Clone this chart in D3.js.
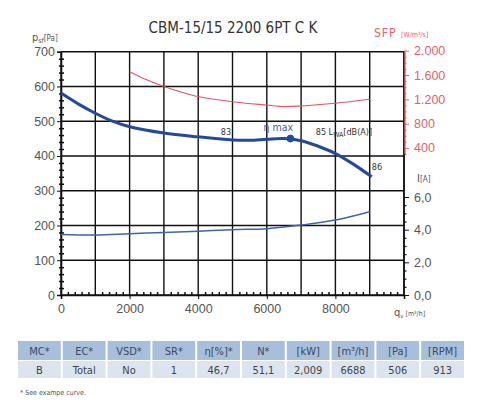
<!DOCTYPE html>
<html><head><meta charset="utf-8">
<script src="https://cdn.jsdelivr.net/npm/d3@7"></script>
<style>body{margin:0;background:#fff;}svg{display:block;font-family:"DejaVu Sans Condensed","Roboto",sans-serif;}</style>
</head><body><svg id="c" width="487" height="400"></svg>
<script>
// ---- data ----
const title = "CBM-15/15 2200 6PT C K";
const pressureQ = [0,500,1000,1500,2000,3000,4000,5000,5500,6000,6500,7000,7500,8000,8500,9060];
const pressureP = [581,550,523,500,484,466,455,446,445,448,450,444,428,407,378,340];
const sfpQ = [2000,2500,3000,3500,4000,5000,6000,6500,7000,8000,9000];
const sfpV = [1654,1520,1410,1320,1245,1160,1105,1080,1090,1135,1200];
const currQ = [0,1000,2000,3000,4000,5000,6000,7000,8000,9000];
const currI = [3.71,3.67,3.75,3.83,3.91,4.0,4.06,4.28,4.59,5.1];
const etaMax = {q:6688, p:450};
const xTicks = [0,2000,4000,6000,8000];
const pTicks = [0,100,200,300,400,500,600,700];
const sfpTicks = [400,800,1200,1600,2000];
const iTicks = [0,2,4,6];
const tableHead = ["MC*","EC*","VSD*","SR*","η[%]*","N*","[kW]","[m³/h]","[Pa]","[RPM]"];
const tableRow = ["B","Total","No","1","46,7","51,1","2,009","6688","506","913"];
const soundLabels = [{q:4810,p:460,t:"83"},{q:8250,p:460,t:"85 LWA[dB(A)]"},{q:9210,p:359,t:"86"}];

const svg = d3.select("#c");
const x = d3.scaleLinear([0,10000],[61,404]);
const yP = d3.scaleLinear([0,700],[295,51.7]);
const yS = d3.scaleLinear([0,2000],[172.2,50.7]);
const yI = d3.scaleLinear([0,6],[295,197]);
const grey = "#555", red = "#e4606c";

// grid
const g = svg.append("g");
d3.range(0,10001,1000).forEach(v=>{
  g.append("line").attr("x1",x(v)).attr("x2",x(v)).attr("y1",yP(0)).attr("y2",yP(700))
   .attr("stroke","#111").attr("stroke-width",1.4);
});
pTicks.forEach(v=>{
  g.append("line").attr("x1",x(0)).attr("x2",x(10000)).attr("y1",yP(v)).attr("y2",yP(v))
   .attr("stroke","#111").attr("stroke-width",1.4);
});

// left axis
const la = svg.append("g").attr("transform",`translate(${x(0)},0)`)
  .call(d3.axisLeft(yP).tickValues(pTicks).tickSize(4).tickPadding(2));
la.select(".domain").attr("stroke","#111").attr("stroke-width",1.6);
la.selectAll("text").attr("fill",grey).style("font-size","12.5px");
la.selectAll(".tick line").attr("stroke","#111");
svg.append("g").attr("transform",`translate(${x(0)},0)`)
  .call(d3.axisRight(yP).tickValues(d3.range(0,701,20).filter(v=>v%100)).tickSize(3).tickFormat(""))
  .call(s=>{s.select(".domain").remove();s.selectAll("line").attr("stroke","#111").attr("stroke-width",1.5);});
svg.append("g").attr("transform",`translate(${x(0)},0)`)
  .call(d3.axisLeft(yP).tickValues(d3.range(0,701,20).filter(v=>v%100)).tickSize(2).tickFormat(""))
  .call(s=>{s.select(".domain").remove();s.selectAll("line").attr("stroke","#111").attr("stroke-width",1.5);});

// bottom axis
const ba = svg.append("g").attr("transform",`translate(0,${yP(0)})`)
  .call(d3.axisBottom(x).tickValues(xTicks).tickSize(4).tickPadding(5).tickFormat(d3.format("d")));
ba.select(".domain").attr("stroke","#111").attr("stroke-width",1.6);
ba.selectAll("text").attr("fill",grey).style("font-size","12.5px");
svg.append("g").attr("transform",`translate(0,${yP(0)})`)
  .call(d3.axisTop(x).tickValues(d3.range(0,10001,200).filter(v=>v%1000)).tickSize(3).tickFormat(""))
  .call(s=>{s.select(".domain").remove();s.selectAll("line").attr("stroke","#111").attr("stroke-width",1.5);});

// right SFP axis (red)
const ra = svg.append("g").attr("transform",`translate(${x(10000)},0)`)
  .call(d3.axisRight(yS).tickValues(sfpTicks).tickSize(5).tickPadding(5)
    .tickFormat(v=>v>=1000?d3.format(",")(v).replace(",","."):String(v)));
ra.select(".domain").remove();
ra.selectAll("text").attr("fill",red).style("font-size","12.5px");
ra.selectAll(".tick line").attr("stroke",red);
svg.append("g").attr("transform",`translate(${x(10000)},0)`)
  .call(d3.axisRight(yS).tickValues(d3.range(300,2001,100).filter(v=>v%400)).tickSize(2.5).tickFormat(""))
  .call(s=>{s.select(".domain").remove();s.selectAll("line").attr("stroke",red).attr("stroke-width",1.2);});
svg.append("line").attr("x1",x(10000)).attr("x2",x(10000)).attr("y1",yP(0)).attr("y2",yP(700))
  .attr("stroke","#111").attr("stroke-width",1.6);
svg.append("line").attr("x1",x(10000)+1).attr("x2",x(10000)+1).attr("y1",yS(2000)).attr("y2",yS(300))
  .attr("stroke",red).attr("stroke-width",1.4);

// right current axis
const ia = svg.append("g").attr("transform",`translate(${x(10000)},0)`)
  .call(d3.axisRight(yI).tickValues(iTicks).tickSize(5).tickPadding(5).tickFormat(v=>d3.format(".1f")(v).replace(".",",")));
ia.select(".domain").remove();
ia.selectAll("text").attr("fill",grey).style("font-size","12.5px");
ia.selectAll(".tick line").attr("stroke","#111");
svg.append("g").attr("transform",`translate(${x(10000)},0)`)
  .call(d3.axisRight(yI).tickValues(d3.range(0.5,6.01,0.5).filter(v=>v%2)).tickSize(2.5).tickFormat(""))
  .call(s=>{s.select(".domain").remove();s.selectAll("line").attr("stroke","#111").attr("stroke-width",1.2);});

// curves
const curve = d3.curveCatmullRom.alpha(0.5);
svg.append("path").datum(sfpQ.map((q,i)=>[q,sfpV[i]]))
  .attr("d",d3.line().x(d=>x(d[0])).y(d=>yS(d[1])).curve(curve))
  .attr("fill","none").attr("stroke","#e05560").attr("stroke-width",1.1);
svg.append("path").datum(currQ.map((q,i)=>[q,currI[i]]))
  .attr("d",d3.line().x(d=>x(d[0])).y(d=>yI(d[1])).curve(curve))
  .attr("fill","none").attr("stroke","#3f64a8").attr("stroke-width",1.5);
svg.append("path").datum(pressureQ.map((q,i)=>[q,pressureP[i]]))
  .attr("d",d3.line().x(d=>x(d[0])).y(d=>yP(d[1])).curve(curve))
  .attr("fill","none").attr("stroke","#24499a").attr("stroke-width",3);
svg.append("circle").attr("cx",x(etaMax.q)).attr("cy",yP(etaMax.p)).attr("r",3.8).attr("fill","#24499a");
svg.append("text").attr("x",x(etaMax.q)-12).attr("y",yP(etaMax.p)-8).attr("text-anchor","middle")
  .attr("fill","#3f64a8").style("font-size","10.5px").text("η max");
soundLabels.forEach(d=>{
  const t = svg.append("text").attr("x",x(d.q)).attr("y",yP(d.p)).attr("text-anchor","middle")
    .attr("fill","#333").style("font-size","9px");
  if(d.t.indexOf("LWA")>=0){
    t.append("tspan").text("85 L");
    t.append("tspan").attr("dy",1.5).style("font-size","7px").text("WA");
    t.append("tspan").attr("dy",-1.5).text("[dB(A)]");
  } else t.text(d.t);
});

// titles and axis labels
svg.append("text").attr("x",233).attr("y",33).attr("text-anchor","middle").attr("fill","#333")
  .style("font-size","15px").text(title);
const pl = svg.append("text").attr("x",32).attr("y",41).attr("fill",grey).style("font-size","11px");
pl.append("tspan").text("p");
pl.append("tspan").attr("dy",2).style("font-size","7px").text("sf");
pl.append("tspan").attr("dy",-2).style("font-size","8px").text("[Pa]");
const sl = svg.append("text").attr("x",374).attr("y",37).attr("fill",red).style("font-size","12px");
sl.append("tspan").style("letter-spacing","1px").text("SFP ");
sl.append("tspan").style("font-size","7px").text("[W/m³/s]");
const il = svg.append("text").attr("x",417).attr("y",182).attr("fill",grey).style("font-size","11px");
il.append("tspan").text("I");
il.append("tspan").style("font-size","8px").text("[A]");
const ql = svg.append("text").attr("x",394).attr("y",316).attr("fill",grey).style("font-size","11px");
ql.append("tspan").text("q");
ql.append("tspan").attr("dy",2).style("font-size","6px").text("v");
ql.append("tspan").attr("dy",-2).style("font-size","7px").text(" [m³/h]");

// table
const tx = d3.scaleBand().domain(d3.range(tableHead.length)).range([18,464]).paddingInner(0.045);
const tg = svg.append("g");
tableHead.forEach((h,i)=>{
  tg.append("rect").attr("x",tx(i)).attr("y",341).attr("width",tx.bandwidth()).attr("height",19).attr("fill","#a8bfdc");
  tg.append("rect").attr("x",tx(i)).attr("y",361).attr("width",tx.bandwidth()).attr("height",17).attr("fill","#dce4f0");
  tg.append("text").attr("x",tx(i)+tx.bandwidth()/2).attr("y",355).attr("text-anchor","middle")
    .attr("fill","#3a4a5e").style("font-size","11px").text(h);
  tg.append("text").attr("x",tx(i)+tx.bandwidth()/2).attr("y",374).attr("text-anchor","middle")
    .attr("fill","#444").style("font-size","11px").text(tableRow[i]);
});
svg.append("text").attr("x",20).attr("y",395).attr("fill","#555").style("font-size","7px").text("* See exampe curve.");
</script></body></html>
